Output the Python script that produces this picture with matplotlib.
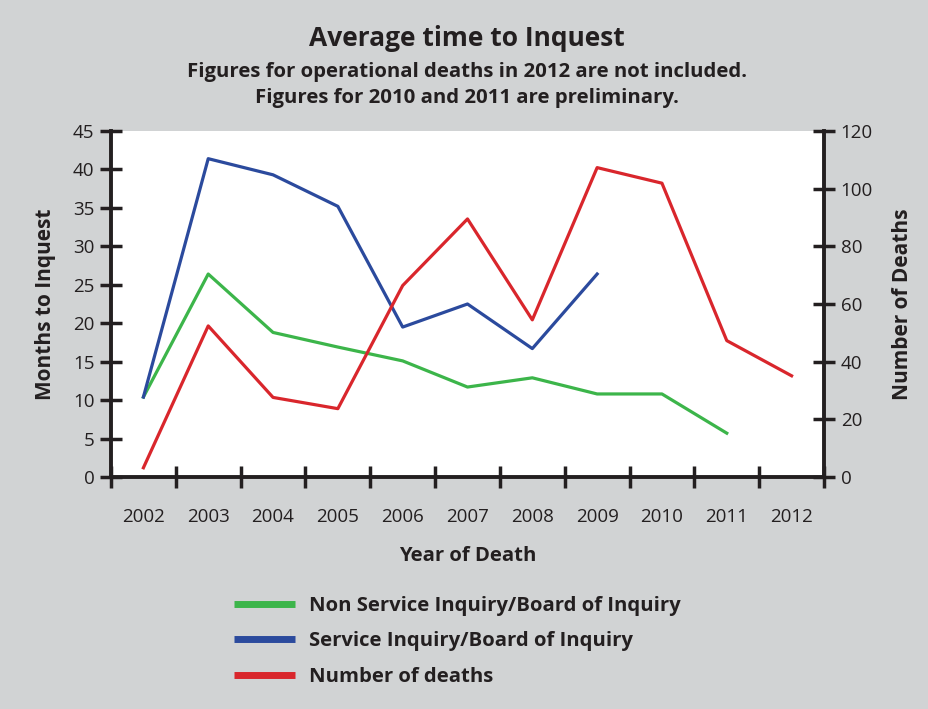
import matplotlib.pyplot as plt
import numpy as np

years = ['2002', '2003', '2004', '2005', '2006', '2007', '2008', '2009', '2010', '2011', '2012']
non_service = [10.4, 26.4, 18.8, 16.9, 15.1, 11.7, 12.9, 10.8, 10.8, 5.7, np.nan]
service = [10.4, 41.4, 39.3, 35.2, 19.5, 22.5, 16.7, 26.4, np.nan, np.nan, np.nan]
deaths = [3.2, 52.4, 27.6, 23.7, 66.4, 89.5, 54.5, 107.3, 101.9, 47.3, 35.1]

bg = '#d1d3d4'
green = '#3cb54a'
blue = '#2b4a9d'
red = '#d9262c'
ink = '#231f20'

plt.rcParams['font.family'] = ['Open Sans', 'DejaVu Sans']

fig = plt.figure(figsize=(9.29, 7.09), dpi=100, facecolor=bg)
ax = fig.add_axes([111/929, 1 - 477/709, (824 - 111)/929, (477 - 131)/709])
ax2 = ax.twinx()

# points sit in the middle of each year's slot
x = np.arange(len(years)) + 0.5
l1, = ax.plot(x, non_service, color=green, lw=2.3)
l2, = ax.plot(x, service, color=blue, lw=2.3)
l3, = ax2.plot(x, deaths, color=red, lw=2.3)

ax.set_xlim(0, len(years))
ax.set_ylim(0, 45)
ax2.set_ylim(0, 120)
ax.set_yticks(np.arange(0, 46, 5))
ax2.set_yticks(np.arange(0, 121, 20))

ax.set_xticks(x)
ax.set_xticklabels(years)
ax.set_xticks(np.arange(0, len(years) + 1), minor=True)
ax.tick_params(axis='x', which='major', length=0, pad=22)
ax.tick_params(axis='x', which='minor', direction='inout', length=16, width=2.5, color=ink)

for lab in ax.get_xticklabels() + ax.get_yticklabels() + ax2.get_yticklabels():
    lab.set_fontsize(13.5)
    lab.set_color(ink)

ax.tick_params(axis='y', direction='inout', length=16, width=2.5, color=ink, pad=4)
ax2.tick_params(axis='y', direction='inout', length=16, width=2.5, color=ink, pad=4)

for a in (ax, ax2):
    a.spines['top'].set_visible(False)
ax.spines['left'].set_linewidth(2.8)
ax.spines['bottom'].set_linewidth(2.8)
ax.spines['right'].set_visible(False)
ax2.spines['left'].set_visible(False)
ax2.spines['bottom'].set_visible(False)
ax2.spines['right'].set_linewidth(2.8)
for s in ax.spines.values():
    s.set_color(ink)
ax2.spines['right'].set_color(ink)

ax.set_ylabel('Months to Inquest', fontsize=15, fontweight='bold', color=ink, labelpad=12)
ax2.set_ylabel('Number of Deaths', fontsize=15, fontweight='bold', color=ink, labelpad=14)
ax.set_xlabel('Year of Death', fontsize=14.6, fontweight='bold', color=ink, labelpad=15)

fig.text(467/929, 1 - 38/709, 'Average time to Inquest', ha='center', va='center',
         fontsize=19, fontweight='bold', color=ink)
fig.text(467/929, 1 - 72/709, 'Figures for operational deaths in 2012 are not included.',
         ha='center', va='center', fontsize=14.7, fontweight='bold', color=ink)
fig.text(467/929, 1 - 98/709, 'Figures for 2010 and 2011 are preliminary.',
         ha='center', va='center', fontsize=14.7, fontweight='bold', color=ink)

leg = fig.legend([l1, l2, l3],
                 ['Non Service Inquiry/Board of Inquiry', 'Service Inquiry/Board of Inquiry', 'Number of deaths'],
                 loc='upper left', bbox_to_anchor=(216/929, 1 - 578/709), frameon=False,
                 prop=dict(size=14.6, weight='bold'), handlelength=3.0, handletextpad=0.7,
                 labelspacing=0.75, labelcolor=ink)
for h in leg.legend_handles:
    h.set_linewidth(5)
    h.set_solid_capstyle('butt')

fig.savefig('out.png', dpi=100, facecolor=bg)
